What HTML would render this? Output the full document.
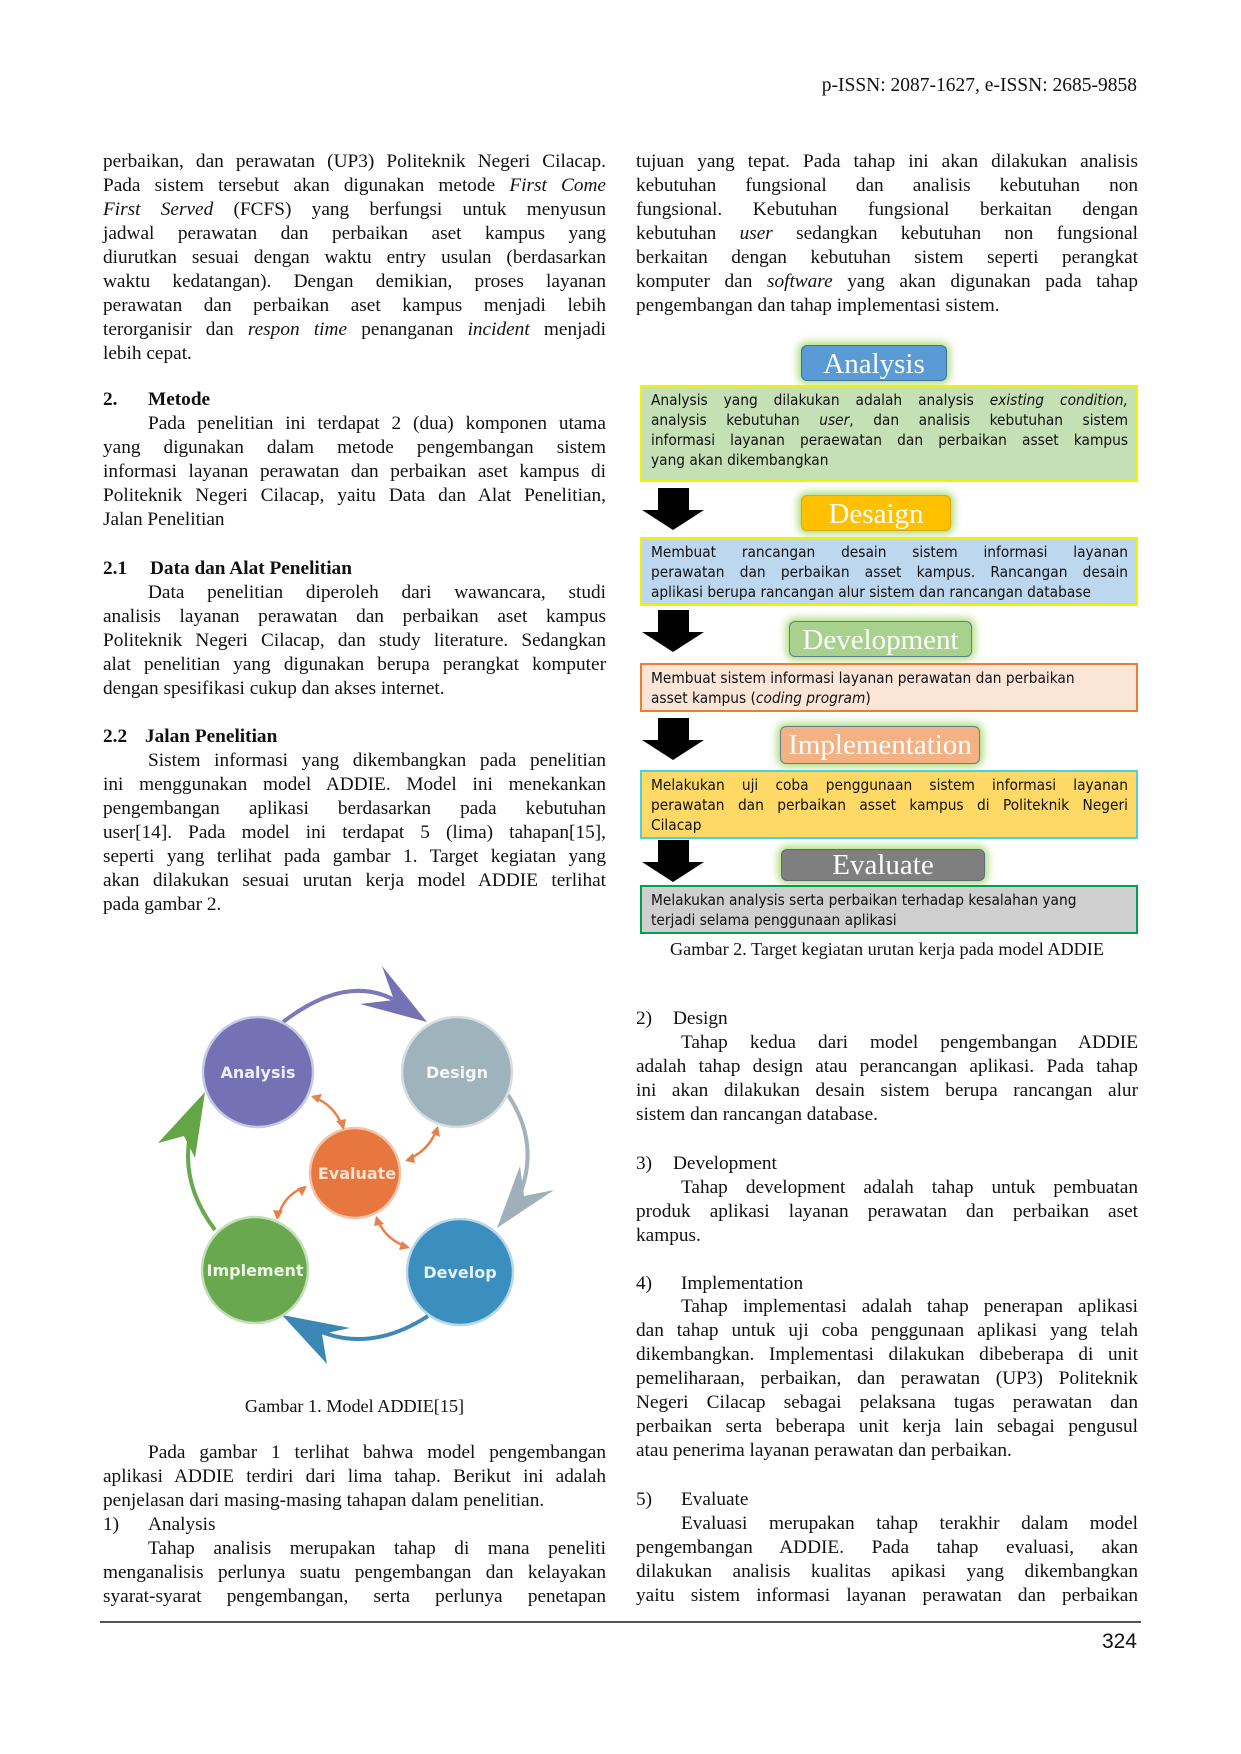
<!DOCTYPE html>
<html><head><meta charset="utf-8">
<style>
body{margin:0;background:#fff;}
#pg{position:relative;width:1241px;height:1754px;overflow:hidden;background:#fff;font-family:"Liberation Serif",serif;color:#111;font-size:19.3px;}
.ln{position:absolute;height:24px;line-height:24px;white-space:nowrap;}
.L{left:103px;width:503px;}
.R{left:636px;width:502px;}
.j{text-align:justify;text-align-last:justify;}
.in{text-indent:45px;}
.b{font-weight:bold;}
i{font-style:italic;}
.tt{position:absolute;color:#fff;font-family:"Liberation Serif",serif;font-size:29px;text-align:center;line-height:36px;border-radius:6px;border:1.5px solid #41719c;box-shadow:0 0 8px 3px rgba(146,208,80,0.75);}
.bx{position:absolute;left:640px;width:477px;padding:3px 8px 0 9px;font-family:"DejaVu Sans Condensed","DejaVu Sans",sans-serif;font-size:15.3px;line-height:20px;color:#111;}
.bx div{white-space:nowrap;}
.arr{position:absolute;left:642px;width:62px;height:42px;}
.cap{font-size:18.2px;}
</style></head><body><div id="pg">

<div class="ln" style="right:104px;top:74px;font-size:19.5px;">p-ISSN: 2087-1627, e-ISSN: 2685-9858</div>

<!-- Left column -->
<div class="ln L j" style="top:150px">perbaikan, dan perawatan (UP3) Politeknik Negeri Cilacap.</div>
<div class="ln L j" style="top:174px">Pada sistem tersebut akan digunakan metode <i>First Come</i></div>
<div class="ln L j" style="top:198px"><i>First Served</i> (FCFS) yang berfungsi untuk menyusun</div>
<div class="ln L j" style="top:222px">jadwal perawatan dan perbaikan aset kampus yang</div>
<div class="ln L j" style="top:246px">diurutkan sesuai dengan waktu entry usulan (berdasarkan</div>
<div class="ln L j" style="top:270px">waktu kedatangan). Dengan demikian, proses layanan</div>
<div class="ln L j" style="top:294px">perawatan dan perbaikan aset kampus menjadi lebih</div>
<div class="ln L j" style="top:318px">terorganisir dan <i>respon time</i> penanganan <i>incident</i> menjadi</div>
<div class="ln L" style="top:342px">lebih cepat.</div>

<div class="ln L b" style="top:388px">2.<span style="position:absolute;left:45px">Metode</span></div>
<div class="ln L j in" style="top:412px">Pada penelitian ini terdapat 2 (dua) komponen utama</div>
<div class="ln L j" style="top:436px">yang digunakan dalam metode pengembangan sistem</div>
<div class="ln L j" style="top:460px">informasi layanan perawatan dan perbaikan aset kampus di</div>
<div class="ln L j" style="top:484px">Politeknik Negeri Cilacap, yaitu Data dan Alat Penelitian,</div>
<div class="ln L" style="top:508px">Jalan Penelitian</div>

<div class="ln L b" style="top:557px">2.1<span style="position:absolute;left:47px">Data dan Alat Penelitian</span></div>
<div class="ln L j in" style="top:581px">Data penelitian diperoleh dari wawancara, studi</div>
<div class="ln L j" style="top:605px">analisis layanan perawatan dan perbaikan aset kampus</div>
<div class="ln L j" style="top:629px">Politeknik Negeri Cilacap, dan study literature. Sedangkan</div>
<div class="ln L j" style="top:653px">alat penelitian yang digunakan berupa perangkat komputer</div>
<div class="ln L" style="top:677px">dengan spesifikasi cukup dan akses internet.</div>

<div class="ln L b" style="top:725px">2.2<span style="position:absolute;left:42px">Jalan Penelitian</span></div>
<div class="ln L j in" style="top:749px">Sistem informasi yang dikembangkan pada penelitian</div>
<div class="ln L j" style="top:773px">ini menggunakan model ADDIE. Model ini menekankan</div>
<div class="ln L j" style="top:797px">pengembangan aplikasi berdasarkan pada kebutuhan</div>
<div class="ln L j" style="top:821px">user[14]. Pada model ini terdapat 5 (lima) tahapan[15],</div>
<div class="ln L j" style="top:845px">seperti yang terlihat pada gambar 1. Target kegiatan yang</div>
<div class="ln L j" style="top:869px">akan dilakukan sesuai urutan kerja model ADDIE terlihat</div>
<div class="ln L" style="top:893px">pada gambar 2.</div>

<svg style="position:absolute;left:0;top:0" width="1241" height="1754">
  <path d="M283,1022 Q357,965 412,1012" fill="none" stroke="#7b79b9" stroke-width="4"/>
  <polygon points="427,1022 382,966 394,1000 360,1004" fill="#7471b5"/>
  <path d="M508,1095 Q545,1150 512,1212" fill="none" stroke="#a3b3bb" stroke-width="4"/>
  <polygon points="497,1228 520,1166 524,1196 554,1190" fill="#9fb0b9"/>
  <path d="M428,1316 Q360,1360 298,1320" fill="none" stroke="#3d88b6" stroke-width="4"/>
  <polygon points="282,1315 350,1328 322,1334 327,1364" fill="#3a86b4"/>
  <path d="M215,1230 Q170,1170 200,1105" fill="none" stroke="#6aa84f" stroke-width="4"/>
  <polygon points="205,1092 158,1143 184,1136 195,1158" fill="#64a545"/>
  <circle cx="258" cy="1072" r="55" fill="#7471b5" stroke="#c9c8e3" stroke-width="2.5"/>
  <circle cx="457" cy="1072" r="55" fill="#9fb3bd" stroke="#d6dee2" stroke-width="2.5"/>
  <circle cx="355" cy="1173" r="45" fill="#e8773f" stroke="#f2c3a8" stroke-width="2.5"/>
  <circle cx="255" cy="1270" r="53" fill="#6aa84f" stroke="#c4dfb7" stroke-width="2.5"/>
  <circle cx="460" cy="1272" r="53" fill="#3a8fbf" stroke="#b8d6e8" stroke-width="2.5"/>
  <g stroke="#e8804a" stroke-width="2.5" fill="none">
    <path d="M313,1097 Q335,1105 343,1128"/>
    <path d="M437,1128 Q430,1150 407,1160"/>
    <path d="M305,1187 Q283,1195 278,1218"/>
    <path d="M377,1218 Q385,1240 408,1247"/>
  </g>
  <g fill="#e8804a">
    <polygon points="311,1096 322,1094 318,1103"/><polygon points="344,1130 336,1121 346,1119"/>
    <polygon points="438,1126 440,1137 431,1133"/><polygon points="405,1161 413,1153 415,1163"/>
    <polygon points="307,1186 302,1196 297,1188"/><polygon points="277,1220 273,1210 283,1211"/>
    <polygon points="376,1216 384,1224 374,1226"/><polygon points="410,1248 399,1250 402,1241"/>
  </g>
  <g font-family="DejaVu Sans, sans-serif" font-weight="bold" font-size="16" fill="#fff" text-anchor="middle">
    <text x="258" y="1078" fill="#eeeefa">Analysis</text>
    <text x="457" y="1078" fill="#f4f6f7">Design</text>
    <text x="357" y="1179" fill="#fbe3d3">Evaluate</text>
    <text x="255" y="1276" fill="#eef6ea">Implement</text>
    <text x="460" y="1278" fill="#e6f2fa">Develop</text>
  </g>
</svg>

<div class="ln cap" style="left:103px;width:503px;text-align:center;top:1394px;">Gambar 1. Model ADDIE[15]</div>

<div class="ln L j in" style="top:1441px">Pada gambar 1 terlihat bahwa model pengembangan</div>
<div class="ln L j" style="top:1465px">aplikasi ADDIE terdiri dari lima tahap. Berikut ini adalah</div>
<div class="ln L" style="top:1489px">penjelasan dari masing-masing tahapan dalam penelitian.</div>
<div class="ln L" style="top:1513px">1)<span style="position:absolute;left:45px">Analysis</span></div>
<div class="ln L j in" style="top:1537px">Tahap analisis merupakan tahap di mana peneliti</div>
<div class="ln L j" style="top:1561px">menganalisis perlunya suatu pengembangan dan kelayakan</div>
<div class="ln L j" style="top:1585px">syarat-syarat pengembangan, serta perlunya penetapan</div>

<!-- Right column -->
<div class="ln R j" style="top:150px">tujuan yang tepat. Pada tahap ini akan dilakukan analisis</div>
<div class="ln R j" style="top:174px">kebutuhan fungsional dan analisis kebutuhan non</div>
<div class="ln R j" style="top:198px">fungsional. Kebutuhan fungsional berkaitan dengan</div>
<div class="ln R j" style="top:222px">kebutuhan <i>user</i> sedangkan kebutuhan non fungsional</div>
<div class="ln R j" style="top:246px">berkaitan dengan kebutuhan sistem seperti perangkat</div>
<div class="ln R j" style="top:270px">komputer dan <i>software</i> yang akan digunakan pada tahap</div>
<div class="ln R" style="top:294px">pengembangan dan tahap implementasi sistem.</div>

<div class="tt" style="left:801px;top:345px;width:144px;height:34px;background:#5b9bd5;">Analysis</div>
<div class="bx" style="top:385px;height:90px;background:#c5e0b4;border:2px solid #f2f200;">
<div style="text-align:justify;text-align-last:justify">Analysis yang dilakukan adalah analysis <i>existing condition,</i></div>
<div style="text-align:justify;text-align-last:justify">analysis kebutuhan <i>user</i>, dan analisis kebutuhan sistem</div>
<div style="text-align:justify;text-align-last:justify">informasi layanan peraewatan dan perbaikan asset kampus</div>
<div>yang akan dikembangkan</div></div>

<svg class="arr" style="top:488px" viewBox="0 0 62 42"><polygon points="16,0 47,0 47,22 62,22 31,42 0,22 16,22" fill="#000"/></svg>
<div class="tt" style="left:801px;top:495px;width:148px;height:34px;background:#ffc000;border-color:#e0a800;">Desaign</div>
<div class="bx" style="top:537px;height:62px;background:#bdd7ee;border:2px solid #f2f200;">
<div style="text-align:justify;text-align-last:justify">Membuat rancangan desain sistem informasi layanan</div>
<div style="text-align:justify;text-align-last:justify">perawatan dan perbaikan asset kampus. Rancangan desain</div>
<div>aplikasi berupa rancangan alur sistem dan rancangan database</div></div>

<svg class="arr" style="top:610px" viewBox="0 0 62 42"><polygon points="16,0 47,0 47,22 62,22 31,42 0,22 16,22" fill="#000"/></svg>
<div class="tt" style="left:789px;top:621px;width:181px;height:34px;background:#a9d18e;border-color:#5f7f8f;">Development</div>
<div class="bx" style="top:663px;height:42px;background:#fbe5d6;border:2px solid #ed7d31;">
<div>Membuat sistem informasi layanan perawatan dan perbaikan</div>
<div>asset kampus (<i>coding program</i>)</div></div>

<svg class="arr" style="top:718px" viewBox="0 0 62 42"><polygon points="16,0 47,0 47,22 62,22 31,42 0,22 16,22" fill="#000"/></svg>
<div class="tt" style="left:780px;top:726px;width:198px;height:36px;background:#f4b183;border-color:#5f7f8f;">Implementation</div>
<div class="bx" style="top:770px;height:62px;background:#ffd966;border:2px solid #4dd0d8;">
<div style="text-align:justify;text-align-last:justify">Melakukan uji coba penggunaan sistem informasi layanan</div>
<div style="text-align:justify;text-align-last:justify">perawatan dan perbaikan asset kampus di Politeknik Negeri</div>
<div>Cilacap</div></div>

<svg class="arr" style="top:840px" viewBox="0 0 62 42"><polygon points="16,0 47,0 47,22 62,22 31,42 0,22 16,22" fill="#000"/></svg>
<div class="tt" style="left:781px;top:849px;width:202px;height:30px;line-height:30px;background:#7f7f7f;border-color:#5a6a78;">Evaluate</div>
<div class="bx" style="top:885px;height:42px;background:#cfcfcf;border:2px solid #00a050;">
<div>Melakukan analysis serta perbaikan terhadap kesalahan yang</div>
<div>terjadi selama penggunaan aplikasi</div></div>

<div class="ln cap" style="left:636px;width:502px;text-align:center;top:937px;">Gambar 2. Target kegiatan urutan kerja pada model ADDIE</div>

<div class="ln R" style="top:1007px">2)<span style="position:absolute;left:37px">Design</span></div>
<div class="ln R j in" style="top:1031px">Tahap kedua dari model pengembangan ADDIE</div>
<div class="ln R j" style="top:1055px">adalah tahap design atau perancangan aplikasi. Pada tahap</div>
<div class="ln R j" style="top:1079px">ini akan dilakukan desain sistem berupa rancangan alur</div>
<div class="ln R" style="top:1103px">sistem dan rancangan database.</div>

<div class="ln R" style="top:1152px">3)<span style="position:absolute;left:37px">Development</span></div>
<div class="ln R j in" style="top:1176px">Tahap development adalah tahap untuk pembuatan</div>
<div class="ln R j" style="top:1200px">produk aplikasi layanan perawatan dan perbaikan aset</div>
<div class="ln R" style="top:1224px">kampus.</div>

<div class="ln R" style="top:1272px">4)<span style="position:absolute;left:45px">Implementation</span></div>
<div class="ln R j in" style="top:1295px">Tahap implementasi adalah tahap penerapan aplikasi</div>
<div class="ln R j" style="top:1319px">dan tahap untuk uji coba penggunaan aplikasi yang telah</div>
<div class="ln R j" style="top:1343px">dikembangkan. Implementasi dilakukan dibeberapa di unit</div>
<div class="ln R j" style="top:1367px">pemeliharaan, perbaikan, dan perawatan (UP3) Politeknik</div>
<div class="ln R j" style="top:1391px">Negeri Cilacap sebagai pelaksana tugas perawatan dan</div>
<div class="ln R j" style="top:1415px">perbaikan serta beberapa unit kerja lain sebagai pengusul</div>
<div class="ln R" style="top:1439px">atau penerima layanan perawatan dan perbaikan.</div>

<div class="ln R" style="top:1488px">5)<span style="position:absolute;left:45px">Evaluate</span></div>
<div class="ln R j in" style="top:1512px">Evaluasi merupakan tahap terakhir dalam model</div>
<div class="ln R j" style="top:1536px">pengembangan ADDIE. Pada tahap evaluasi, akan</div>
<div class="ln R j" style="top:1560px">dilakukan analisis kualitas apikasi yang dikembangkan</div>
<div class="ln R j" style="top:1584px">yaitu sistem informasi layanan perawatan dan perbaikan</div>

<div style="position:absolute;left:100px;top:1621px;width:1041px;height:2px;background:#555;"></div>
<div style="position:absolute;right:104px;top:1630px;font-family:'Liberation Sans',sans-serif;font-size:21px;line-height:24px;">324</div>

</div></body></html>
